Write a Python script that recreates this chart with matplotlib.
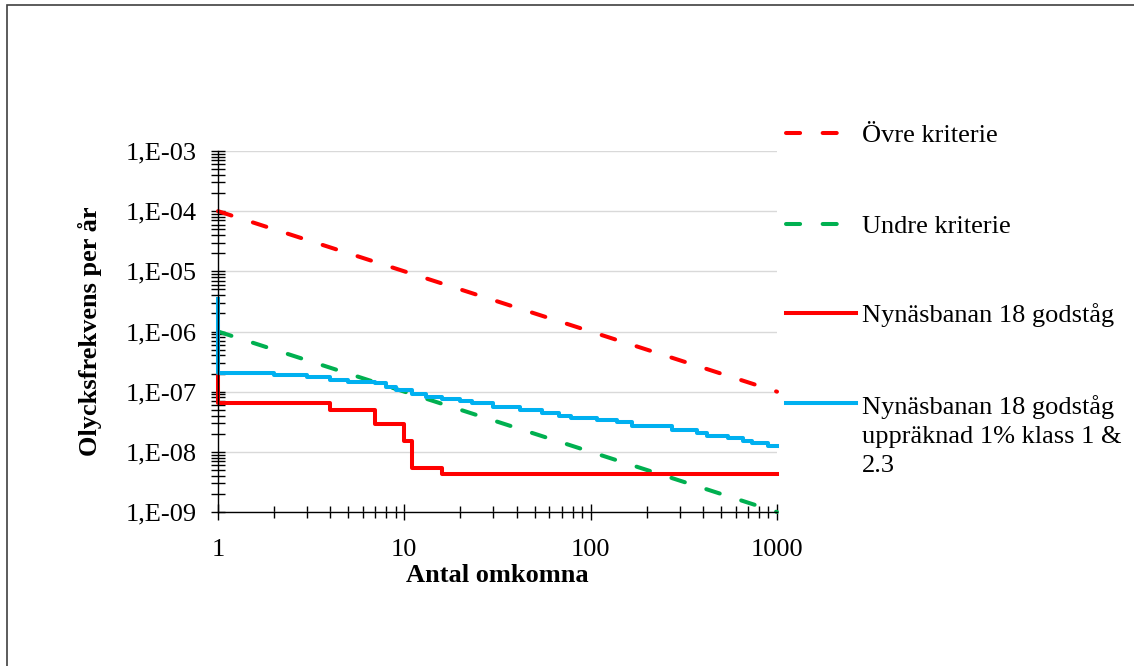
import matplotlib.pyplot as plt
import matplotlib.ticker as mticker
from matplotlib.lines import Line2D
from matplotlib.patches import Rectangle
import numpy as np

plt.rcParams['font.family'] = ['Liberation Serif', 'DejaVu Serif']

# criteria lines (end points)
crit_x = [1, 1000]
ovre_y = [1e-4, 1e-7]
undre_y = [1e-6, 1e-9]

# Nynäsbanan 18 godståg (step curve)
nyn_x = [1, 1, 4, 7, 10, 11, 16, 1000]
nyn_y = [1.9e-7, 6.6e-8, 4.9e-8, 2.9e-8, 1.53e-8, 5.4e-9, 4.3e-9, 4.3e-9]

# Nynäsbanan 18 godståg uppräknad 1% klass 1 & 2.3 (step curve)
upp_x = [1, 1, 2, 3, 4, 5, 7, 8, 9, 11, 13, 16, 20, 23, 30, 42, 55, 68, 78,
         108, 138, 166, 272, 371, 420, 548, 660, 732, 900, 1000]
upp_y = [3.5e-6, 2.02e-7, 1.89e-7, 1.77e-7, 1.56e-7, 1.47e-7, 1.38e-7, 1.21e-7,
         1.07e-7, 9.05e-8, 8.26e-8, 7.56e-8, 7.0e-8, 6.41e-8, 5.5e-8, 4.96e-8,
         4.38e-8, 3.99e-8, 3.7e-8, 3.38e-8, 3.1e-8, 2.72e-8, 2.31e-8, 2.03e-8,
         1.83e-8, 1.68e-8, 1.51e-8, 1.42e-8, 1.25e-8, 1.25e-8]

labels = ['Övre kriterie', 'Undre kriterie', 'Nynäsbanan 18 godståg',
          'Nynäsbanan 18 godståg\nuppräknad 1% klass 1 &\n2.3']

RED = '#FF0000'
GREEN = '#00B050'
BLUE = '#00B0F0'
LW = 2.9
DASH = (3.5, 5.6)
FS = 19

fig = plt.figure(figsize=(11.34, 6.66), dpi=100)
ax = fig.add_axes([218 / 1134, 1 - 512 / 666, (777 - 218) / 1134, (512 - 151) / 666])

ax.plot(crit_x, ovre_y, color=RED, lw=LW, dashes=DASH, dash_capstyle='round', clip_on=False)
ax.plot(crit_x, undre_y, color=GREEN, lw=LW, dashes=DASH, dash_capstyle='round', clip_on=False)
ax.plot(nyn_x, nyn_y, color=RED, lw=LW, drawstyle='steps-post', clip_on=False)
ax.plot(upp_x, upp_y, color=BLUE, lw=LW, drawstyle='steps-post', clip_on=False)

ax.set_xscale('log')
ax.set_yscale('log')
ax.set_xlim(1, 1000)
ax.set_ylim(1e-9, 1e-3)

ax.yaxis.set_major_locator(mticker.LogLocator(base=10, numticks=20))
ax.yaxis.set_minor_locator(mticker.LogLocator(base=10, subs=np.arange(2, 10), numticks=20))
ax.yaxis.set_minor_formatter(mticker.NullFormatter())
ax.yaxis.set_major_formatter(mticker.FuncFormatter(
    lambda v, p: '1,E{:03d}'.format(int(round(np.log10(v))))))
ax.xaxis.set_major_locator(mticker.LogLocator(base=10, numticks=10))
ax.xaxis.set_minor_locator(mticker.LogLocator(base=10, subs=np.arange(2, 10), numticks=10))
ax.xaxis.set_minor_formatter(mticker.NullFormatter())
ax.xaxis.set_major_formatter(mticker.FuncFormatter(lambda v, p: '%d' % round(v)))

ax.tick_params(axis='both', which='both', direction='inout', color='black',
               labelsize=FS, width=1)
ax.tick_params(axis='y', which='both', length=10, pad=10)
ax.tick_params(axis='x', which='major', length=11.5, pad=13.5)
ax.tick_params(axis='x', which='minor', length=8)

ax.grid(axis='y', which='major', color='#D9D9D9', lw=1)
ax.set_axisbelow(True)
for s in ['top', 'right']:
    ax.spines[s].set_visible(False)
for s in ['left', 'bottom']:
    ax.spines[s].set_color('black')
    ax.spines[s].set_linewidth(1)

ax.set_xlabel('Antal omkomna', fontsize=FS, fontweight='bold', labelpad=2)
ax.set_ylabel('Olycksfrekvens per år', fontsize=FS, fontweight='bold', labelpad=17)

# legend drawn by hand to follow the original spacing
styles = [dict(color=RED, dashes=DASH, dash_capstyle='round'),
          dict(color=GREEN, dashes=DASH, dash_capstyle='round'),
          dict(color=RED),
          dict(color=BLUE)]
leg_y = [133, 224, 313, 403]
for lab, st, yy in zip(labels, styles, leg_y):
    yf = 1 - yy / 666
    fig.add_artist(Line2D([786 / 1134, 856 / 1134], [yf, yf], lw=LW, **st))
    nl = lab.count('\n')
    fig.text(862 / 1134, 1 - (yy + 9 + 30 * nl) / 666, lab, fontsize=FS,
             va='baseline', ha='left', linespacing=1.42)

fig.add_artist(Rectangle((7 / 1134, -0.1), 1.2, 1 - 5 / 666 + 0.1,
                         transform=fig.transFigure, fill=False,
                         edgecolor='#404040', lw=1.2))

fig.savefig('out.png', dpi=100)
